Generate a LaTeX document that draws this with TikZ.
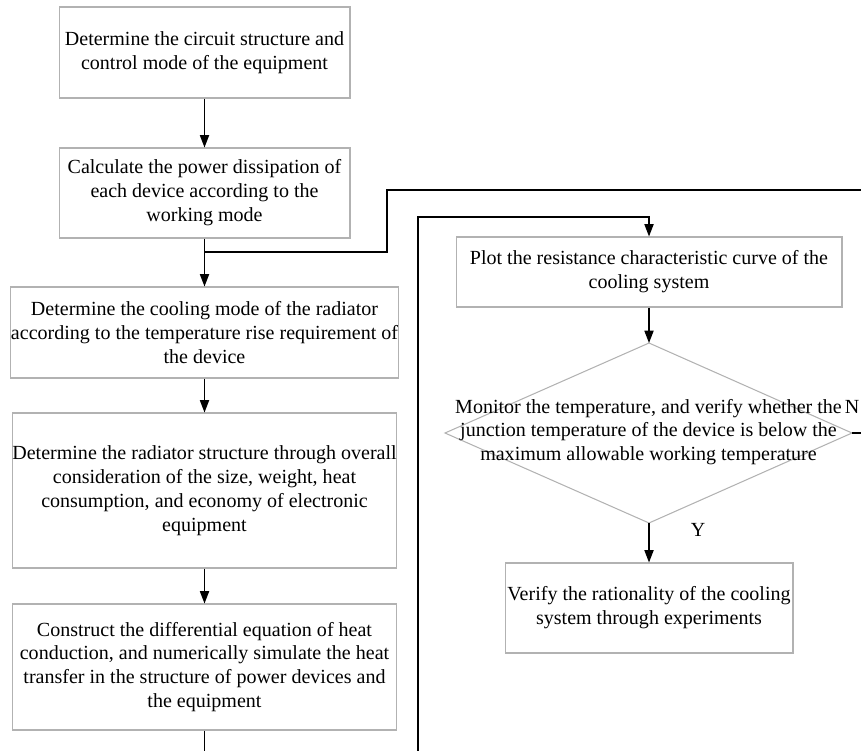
\documentclass[tikz,border=0pt]{standalone}
\usepackage{fontspec}
\setmainfont{Liberation Serif}
\usetikzlibrary{arrows.meta}

\tikzset{
  box/.style={draw=black!30,line width=0.6pt,rectangle,inner sep=0pt,align=center,
    font=\fontsize{11.4}{13.6}\selectfont},
  arr/.style={-{Triangle[width=5.2pt,length=7pt]}},
  lab/.style={font=\fontsize{11.4}{13.6}\selectfont,inner sep=0pt}
}

\begin{document}
\begin{tikzpicture}[x=0.02cm,y=-0.02cm,line width=0.75pt]
\useasboundingbox (0,0) rectangle (861,750);
\clip (0,0) rectangle (861,750);

% left column
\node[box,minimum width=5.82cm,minimum height=1.82cm] (circuit) at (204.5,52.5)
  {Determine the circuit structure and\\control mode of the equipment};
\node[box,minimum width=5.82cm,minimum height=1.80cm] (power) at (204.5,193)
  {Calculate the power dissipation of\\each device according to the\\working mode};
\node[box,minimum width=7.70cm,minimum height=1.82cm] (cooling) at (204.5,332.5)
  {Determine the cooling mode of the radiator\\according to the temperature rise requirement of\\the device};
\node[box,minimum width=7.70cm,minimum height=3.10cm] (radiator) at (204.5,490.5)
  {Determine the radiator structure through overall\\consideration of the size, weight, heat\\consumption, and economy of electronic\\equipment};
\node[box,minimum width=7.70cm,minimum height=2.52cm] (diffeq) at (204.5,667)
  {Construct the differential equation of heat\\conduction, and numerically simulate the heat\\transfer in the structure of power devices and\\the equipment};

% right column
\node[box,minimum width=7.72cm,minimum height=1.40cm] (curve) at (649,272)
  {Plot the resistance characteristic curve of the\\cooling system};
\coordinate (mtop) at (649,343);
\coordinate (mright) at (852,433);
\coordinate (mbot) at (649,523);
\coordinate (mleft) at (445,433);
\draw[black!30,line width=0.6pt] (mtop) -- (mright) -- (mbot) -- (mleft) -- cycle;
\node[lab,align=center] (monitor) at (648.5,432)
  {Monitor the temperature, and verify whether the\\junction temperature of the device is below the\\maximum allowable working temperature};
\node[box,minimum width=5.76cm,minimum height=1.80cm] (verify) at (649,608)
  {Verify the rationality of the cooling\\system through experiments};
\node[lab,anchor=east] (no) at (860,407) {N};
\node[lab] (yes) at (698,530) {Y};

% connectors
\coordinate (split) at (204.5,252);
\coordinate (jog) at (387,190);
\coordinate (outR) at (880,190);
\coordinate (loopT) at (418,217);
\coordinate (loopB) at (418,780);
\coordinate (down) at (204.5,780);
\coordinate (noout) at (880,433);

\draw[arr] (circuit) -- (power);
\draw[arr] (power) -- (cooling);
\draw (split) -| (jog) -- (outR);
\draw[arr] (cooling) -- (radiator);
\draw[arr] (radiator) -- (diffeq);
\draw (diffeq) -- (down);
\draw[arr] (loopB) -- (loopT) -| (curve.north);
\draw[arr] (curve.south) -- (mtop);
\draw[arr] (mbot) -- (verify.north);
\draw (mright) -- (noout);

\end{tikzpicture}
\end{document}
